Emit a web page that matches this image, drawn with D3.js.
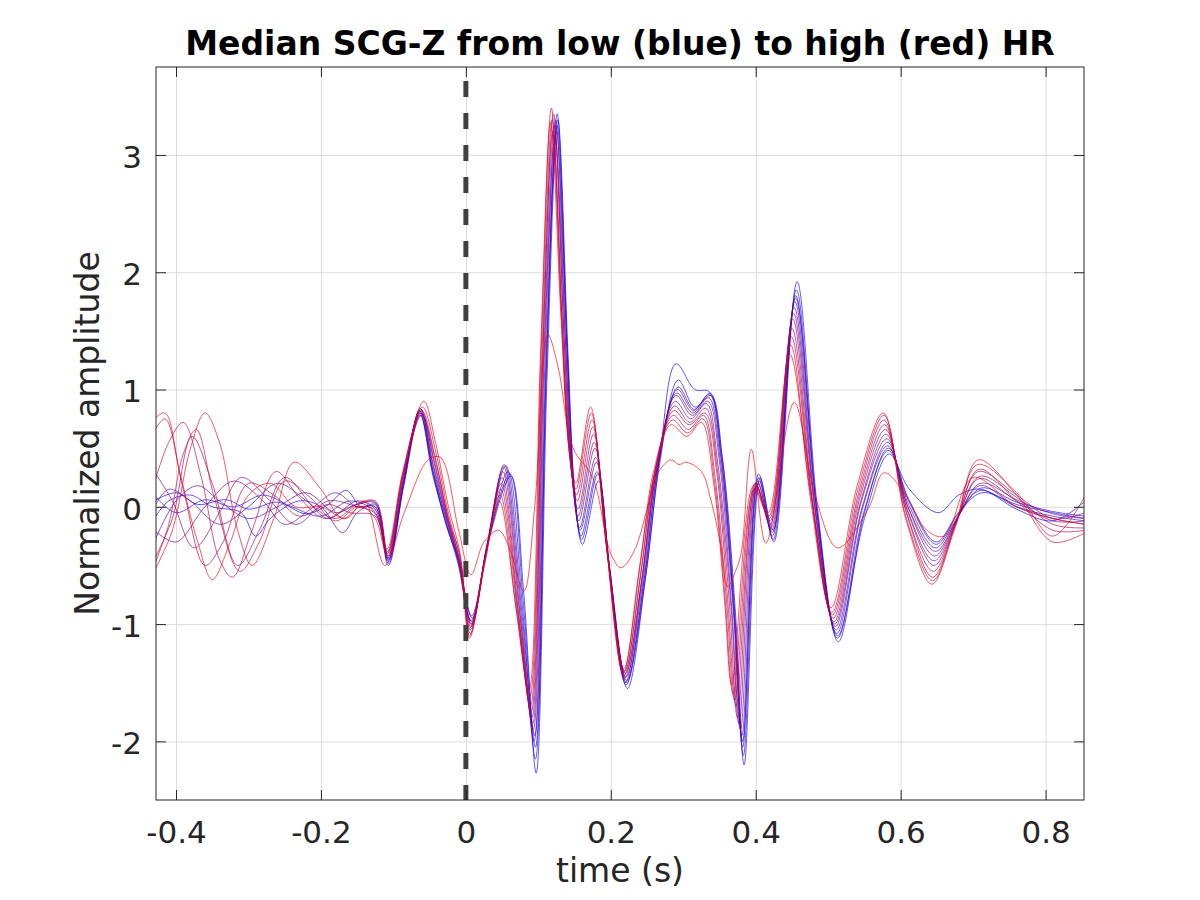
<!DOCTYPE html>
<html>
<head>
<meta charset="utf-8">
<script src="https://cdn.jsdelivr.net/npm/d3@7"></script>
<style>
  body { margin: 0; background: #fff; }
  svg text { font-family: 'DejaVu Sans', sans-serif; fill: #262626; }
</style>
</head>
<body>
<div id="chart"></div>
<script>
// tick labels
var xTicks = [-0.4, -0.2, 0, 0.2, 0.4, 0.6, 0.8];
var yTicks = [-2, -1, 0, 1, 2, 3];

// median SCG-Z traces, [time (s), normalized amplitude], low HR (blue) first
var hr01 = [[-0.43,0.05],[-0.40,0.12],[-0.37,0.02],[-0.33,0.06],[-0.30,-0.02],[-0.26,0.04],[-0.22,-0.06],[-0.19,0.02],[-0.165,0.14],[-0.145,0.0],
  [-0.125,0.0],[-0.107,-0.48],[-0.086,0.18],[-0.064,0.8],[-0.046,0.28],[-0.027,-0.15],[-0.011,-0.45],[0.009,-0.95],[0.031,-0.3],[0.062,0.26],[0.08,-0.75],[0.097,-2.27],[0.112,1.1],[0.127,3.3],[0.141,1.3],[0.151,0.05],[0.161,-0.32],[0.183,0.22],[0.2,-0.62],[0.223,-1.55],[0.249,-0.55],[0.268,0.45],[0.29,1.22],[0.316,1.0],[0.336,0.98],[0.352,0.45],[0.37,-0.9],[0.382,-2.0],[0.404,0.28],[0.424,-0.2],[0.455,1.8],[0.485,-0.05],[0.513,-1.1],[0.55,-0.1],[0.584,0.45],[0.612,0.15],[0.652,-0.05],[0.68,0.1],[0.71,0.15],[0.76,-0.02],[0.81,-0.12],[0.855,0.05]];
var hr02 = [[-0.43,-0.1],[-0.41,0.05],[-0.38,0.1],[-0.35,0.0],[-0.31,-0.05],[-0.29,-0.25],[-0.27,-0.1],[-0.23,0.05],[-0.2,0.0],[-0.17,-0.22],[-0.15,-0.05],
  [-0.125,0.02],[-0.107,-0.45],[-0.086,0.2],[-0.064,0.82],[-0.046,0.3],[-0.027,-0.14],[-0.011,-0.48],[0.008,-0.98],[0.031,-0.28],[0.061,0.28],[0.079,-0.8],[0.096,-2.05],[0.111,1.15],[0.126,3.35],[0.14,1.35],[0.15,0.1],[0.16,-0.28],[0.182,0.28],[0.199,-0.58],[0.222,-1.5],[0.248,-0.6],[0.267,0.35],[0.293,1.08],[0.316,0.85],[0.338,0.95],[0.354,0.42],[0.372,-0.9],[0.384,-2.2],[0.406,0.25],[0.425,-0.3],[0.457,1.92],[0.485,0.0],[0.514,-1.15],[0.55,-0.05],[0.583,0.5],[0.612,0.05],[0.649,-0.3],[0.68,-0.05],[0.712,0.12],[0.76,0.02],[0.81,-0.05],[0.855,-0.1]];
var hr03 = [[-0.43,0.1],[-0.40,-0.05],[-0.36,0.06],[-0.32,0.0],[-0.28,0.1],[-0.24,0.0],[-0.2,-0.08],[-0.16,0.05],
  [-0.125,-0.05],[-0.107,-0.5],[-0.086,0.17],[-0.063,0.78],[-0.046,0.32],[-0.027,-0.16],[-0.011,-0.44],[0.008,-0.93],[0.03,-0.32],[0.058,0.3],[0.078,-0.85],[0.096,-2.15],[0.111,1.2],[0.126,3.25],[0.14,1.3],[0.15,0.15],[0.159,-0.25],[0.181,0.3],[0.199,-0.55],[0.222,-1.48],[0.247,-0.58],[0.266,0.38],[0.293,1.02],[0.315,0.83],[0.337,0.97],[0.353,0.45],[0.371,-0.9],[0.383,-2.12],[0.405,0.22],[0.424,-0.28],[0.456,1.85],[0.484,-0.02],[0.513,-1.12],[0.549,-0.05],[0.583,0.48],[0.611,0.05],[0.649,-0.32],[0.679,-0.06],[0.71,0.14],[0.76,0.0],[0.81,-0.08],[0.855,-0.12]];
var hr04 = [[-0.43,-0.3],[-0.40,0.05],[-0.37,0.18],[-0.34,0.05],[-0.3,-0.1],[-0.26,0.0],[-0.22,0.12],[-0.18,-0.05],[-0.15,0.02],
  [-0.125,0.03],[-0.107,-0.44],[-0.086,0.22],[-0.063,0.84],[-0.045,0.3],[-0.026,-0.12],[-0.01,-0.46],[0.008,-1.0],[0.03,-0.3],[0.055,0.35],[0.077,-0.88],[0.095,-1.95],[0.11,1.15],[0.125,3.2],[0.139,1.4],[0.149,0.12],[0.158,-0.2],[0.18,0.38],[0.198,-0.5],[0.221,-1.52],[0.246,-0.62],[0.265,0.32],[0.292,1.0],[0.314,0.82],[0.336,0.96],[0.352,0.42],[0.37,-0.88],[0.382,-2.05],[0.404,0.25],[0.423,-0.25],[0.455,1.78],[0.483,0.02],[0.512,-1.08],[0.548,0.0],[0.582,0.52],[0.611,0.02],[0.648,-0.35],[0.679,-0.08],[0.711,0.16],[0.76,0.04],[0.81,-0.04],[0.855,-0.08]];
var hr05 = [[-0.43,0.0],[-0.41,0.15],[-0.38,0.05],[-0.34,-0.15],[-0.3,0.0],[-0.26,0.2],[-0.22,0.05],[-0.19,-0.1],[-0.15,0.05],
  [-0.125,-0.02],[-0.107,-0.46],[-0.086,0.2],[-0.063,0.82],[-0.045,0.34],[-0.026,-0.14],[-0.01,-0.45],[0.007,-0.97],[0.029,-0.35],[0.053,0.36],[0.076,-0.9],[0.094,-2.0],[0.109,1.2],[0.124,3.3],[0.138,1.35],[0.148,0.2],[0.157,-0.18],[0.179,0.42],[0.197,-0.48],[0.221,-1.45],[0.245,-0.6],[0.264,0.35],[0.291,0.97],[0.313,0.8],[0.335,0.93],[0.351,0.4],[0.369,-0.88],[0.381,-1.95],[0.403,0.2],[0.423,-0.22],[0.454,1.75],[0.482,0.0],[0.511,-1.05],[0.547,0.0],[0.582,0.55],[0.61,0.0],[0.648,-0.38],[0.678,-0.1],[0.709,0.18],[0.76,0.0],[0.81,-0.1],[0.855,-0.15]];
var hr06 = [[-0.43,-0.2],[-0.40,-0.3],[-0.36,0.0],[-0.32,0.22],[-0.28,0.05],[-0.25,-0.15],[-0.21,0.0],[-0.18,0.12],[-0.15,0.0],
  [-0.125,0.0],[-0.107,-0.42],[-0.086,0.24],[-0.062,0.8],[-0.045,0.36],[-0.026,-0.1],[-0.01,-0.48],[0.007,-1.02],[0.029,-0.33],[0.052,0.34],[0.075,-0.92],[0.093,-1.9],[0.108,1.25],[0.123,3.15],[0.137,1.45],[0.147,0.25],[0.156,-0.12],[0.178,0.5],[0.196,-0.42],[0.22,-1.5],[0.244,-0.58],[0.263,0.3],[0.29,0.95],[0.312,0.78],[0.334,0.9],[0.35,0.38],[0.367,-0.87],[0.379,-1.9],[0.402,0.22],[0.422,-0.2],[0.453,1.7],[0.481,0.03],[0.51,-1.02],[0.546,0.05],[0.581,0.58],[0.61,0.0],[0.647,-0.42],[0.678,-0.1],[0.71,0.2],[0.76,0.06],[0.81,-0.06],[0.855,-0.1]];
var hr07 = [[-0.43,0.3],[-0.405,0.05],[-0.375,-0.35],[-0.34,-0.05],[-0.31,0.25],[-0.27,0.05],[-0.235,-0.15],[-0.19,0.05],[-0.15,0.0],
  [-0.125,-0.06],[-0.108,-0.44],[-0.087,0.22],[-0.062,0.83],[-0.044,0.38],[-0.025,-0.12],[-0.009,-0.44],[0.007,-1.0],[0.028,-0.38],[0.051,0.3],[0.074,-0.9],[0.092,-1.85],[0.107,1.2],[0.122,3.25],[0.136,1.4],[0.146,0.3],[0.155,-0.08],[0.177,0.55],[0.195,-0.4],[0.22,-1.42],[0.243,-0.62],[0.262,0.32],[0.289,0.9],[0.31,0.75],[0.332,0.88],[0.348,0.35],[0.366,-0.86],[0.377,-1.85],[0.401,0.18],[0.421,-0.18],[0.452,1.65],[0.48,0.05],[0.509,-1.0],[0.545,0.05],[0.58,0.62],[0.609,-0.02],[0.646,-0.46],[0.677,-0.12],[0.708,0.24],[0.76,0.05],[0.81,-0.12],[0.855,-0.12]];
var hr08 = [[-0.43,-0.45],[-0.405,-0.1],[-0.378,0.6],[-0.35,0.2],[-0.315,-0.5],[-0.285,-0.2],[-0.25,0.25],[-0.21,0.0],[-0.18,-0.1],[-0.15,0.02],
  [-0.125,0.04],[-0.108,-0.4],[-0.087,0.26],[-0.062,0.8],[-0.044,0.4],[-0.025,-0.1],[-0.009,-0.46],[0.006,-1.05],[0.028,-0.4],[0.05,0.25],[0.073,-0.92],[0.091,-1.8],[0.106,1.3],[0.121,3.35],[0.135,1.5],[0.145,0.35],[0.155,-0.02],[0.176,0.62],[0.195,-0.35],[0.219,-1.46],[0.243,-0.6],[0.262,0.28],[0.288,0.86],[0.309,0.72],[0.331,0.84],[0.347,0.32],[0.364,-0.85],[0.375,-1.8],[0.4,0.2],[0.42,-0.15],[0.451,1.6],[0.479,0.02],[0.508,-0.98],[0.544,0.08],[0.579,0.66],[0.609,-0.03],[0.646,-0.5],[0.677,-0.12],[0.709,0.26],[0.76,0.08],[0.81,-0.15],[0.855,-0.18]];
var hr09 = [[-0.43,0.65],[-0.415,0.75],[-0.39,0.15],[-0.36,-0.5],[-0.335,-0.3],[-0.3,0.2],[-0.265,0.1],[-0.23,-0.08],[-0.19,0.02],[-0.16,-0.05],
  [-0.125,-0.08],[-0.108,-0.42],[-0.087,0.25],[-0.061,0.78],[-0.043,0.42],[-0.025,-0.08],[-0.009,-0.45],[0.006,-1.03],[0.027,-0.42],[0.049,0.2],[0.072,-0.9],[0.09,-1.75],[0.106,1.25],[0.12,3.2],[0.134,1.45],[0.144,0.4],[0.154,0.05],[0.175,0.68],[0.194,-0.3],[0.219,-1.4],[0.242,-0.55],[0.261,0.3],[0.287,0.82],[0.308,0.7],[0.33,0.8],[0.346,0.3],[0.362,-0.85],[0.373,-1.7],[0.4,0.17],[0.42,-0.12],[0.45,1.52],[0.478,0.05],[0.507,-0.95],[0.543,0.1],[0.578,0.7],[0.608,-0.05],[0.645,-0.55],[0.676,-0.14],[0.707,0.3],[0.76,0.1],[0.81,-0.1],[0.855,-0.05]];
var hr10 = [[-0.43,0.2],[-0.41,0.55],[-0.39,0.72],[-0.365,0.25],[-0.34,-0.45],[-0.322,-0.6],[-0.295,-0.2],[-0.262,0.3],[-0.23,0.08],[-0.195,-0.1],[-0.16,0.0],
  [-0.125,0.05],[-0.108,-0.38],[-0.087,0.28],[-0.061,0.82],[-0.043,0.44],[-0.024,-0.1],[-0.008,-0.42],[0.006,-1.08],[0.027,-0.45],[0.048,0.15],[0.071,-0.88],[0.089,-1.7],[0.105,1.3],[0.119,3.3],[0.133,1.55],[0.143,0.45],[0.153,0.1],[0.174,0.74],[0.193,-0.28],[0.218,-1.44],[0.241,-0.58],[0.26,0.28],[0.286,0.78],[0.307,0.66],[0.328,0.78],[0.344,0.25],[0.36,-0.82],[0.371,-1.65],[0.399,0.2],[0.419,-0.1],[0.449,1.45],[0.477,0.08],[0.506,-0.92],[0.542,0.12],[0.577,0.74],[0.608,-0.05],[0.644,-0.6],[0.676,-0.15],[0.708,0.32],[0.76,0.05],[0.81,-0.2],[0.855,-0.2]];
var hr11 = [[-0.43,-0.5],[-0.41,-0.15],[-0.39,0.45],[-0.372,0.66],[-0.348,0.1],[-0.312,-0.55],[-0.285,-0.3],[-0.25,0.22],[-0.215,0.08],[-0.18,-0.12],[-0.15,0.0],
  [-0.125,-0.03],[-0.109,-0.36],[-0.087,0.3],[-0.06,0.85],[-0.042,0.48],[-0.024,-0.06],[-0.008,-0.44],[0.005,-1.1],[0.026,-0.45],[0.047,0.1],[0.07,-0.9],[0.088,-1.62],[0.104,1.35],[0.118,3.4],[0.132,1.6],[0.142,0.5],[0.152,0.15],[0.173,0.8],[0.192,-0.22],[0.218,-1.38],[0.24,-0.52],[0.259,0.3],[0.285,0.74],[0.306,0.63],[0.327,0.75],[0.343,0.22],[0.358,-0.8],[0.369,-1.6],[0.398,0.15],[0.418,-0.08],[0.448,1.38],[0.476,0.05],[0.505,-0.9],[0.541,0.15],[0.577,0.78],[0.607,-0.08],[0.644,-0.63],[0.675,-0.16],[0.706,0.36],[0.76,0.12],[0.81,-0.25],[0.855,0.1]];
var hr12 = [[-0.43,-0.55],[-0.405,-0.2],[-0.38,0.5],[-0.36,0.8],[-0.34,0.55],[-0.315,-0.2],[-0.295,-0.5],[-0.265,-0.1],[-0.237,0.38],[-0.2,0.15],[-0.17,-0.1],[-0.145,0.0],
  [-0.125,-0.1],[-0.109,-0.4],[-0.087,0.28],[-0.058,0.9],[-0.042,0.55],[-0.024,0.0],[-0.008,-0.4],[0.005,-1.12],[0.026,-0.48],[0.046,0.05],[0.069,-0.85],[0.087,-1.56],[0.103,1.3],[0.117,3.28],[0.131,1.65],[0.142,0.55],[0.152,0.2],[0.172,0.85],[0.192,-0.2],[0.217,-1.42],[0.24,-0.5],[0.259,0.25],[0.283,0.7],[0.305,0.6],[0.325,0.72],[0.342,0.2],[0.357,-0.8],[0.367,-1.52],[0.397,0.18],[0.417,-0.05],[0.447,1.3],[0.476,0.1],[0.504,-0.86],[0.54,0.18],[0.576,0.8],[0.607,-0.1],[0.643,-0.66],[0.675,-0.18],[0.707,0.4],[0.76,0.1],[0.81,-0.3],[0.855,-0.22]];
var hr13 = [[-0.43,0.75],[-0.415,0.8],[-0.395,0.3],[-0.37,-0.3],[-0.35,-0.62],[-0.325,-0.3],[-0.3,0.1],[-0.27,0.2],[-0.235,0.0],[-0.2,0.0],[-0.165,-0.1],[-0.14,0.05],
  [-0.112,-0.5],[-0.085,-0.05],[-0.052,0.4],[-0.035,0.42],[-0.01,-0.2],[0.007,-0.58],[0.025,-0.3],[0.045,-0.2],[0.06,-0.35],[0.08,-0.72],[0.095,0.0],[0.113,1.47],[0.127,1.2],[0.148,0.5],[0.175,0.25],[0.2,-0.4],[0.214,-0.52],[0.232,-0.38],[0.251,0.0],[0.265,0.29],[0.283,0.4],[0.294,0.36],[0.304,0.38],[0.325,0.3],[0.338,0.06],[0.352,-0.34],[0.361,-0.68],[0.372,-0.55],[0.38,-0.39],[0.394,0.49],[0.414,-0.31],[0.453,0.89],[0.481,0.12],[0.513,-0.35],[0.555,-0.02],[0.577,0.29],[0.605,0.12],[0.636,-0.2],[0.66,-0.25],[0.7,0.25],[0.76,0.0],[0.81,-0.1],[0.855,-0.15]];

var traces = [hr01, hr02, hr03, hr04, hr05, hr06, hr07, hr08, hr09, hr10, hr11, hr12, hr13];

var margin = {top: 67, left: 156, right: 116, bottom: 100},
    width = 1200 - margin.left - margin.right,
    height = 900 - margin.top - margin.bottom;

var svg = d3.select('#chart').append('svg')
    .attr('width', 1200)
    .attr('height', 900)
    .style('background', '#fff');

var g = svg.append('g')
    .attr('transform', 'translate(' + margin.left + ',' + margin.top + ')');

var xScale = d3.scaleLinear().domain([-0.4276, 0.853]).range([0, width]);
var yScale = d3.scaleLinear().domain([-2.5, 3.75]).range([height, 0]);

// grid
g.append('g')
    .attr('class', 'grid')
    .attr('transform', 'translate(0,' + height + ')')
    .call(d3.axisBottom(xScale).tickValues(xTicks).tickSize(-height).tickFormat(''))
    .call(function(s) { s.select('.domain').remove(); })
    .selectAll('line').attr('stroke', '#dedede');
g.append('g')
    .attr('class', 'grid')
    .call(d3.axisLeft(yScale).tickValues(yTicks).tickSize(-width).tickFormat(''))
    .call(function(s) { s.select('.domain').remove(); })
    .selectAll('line').attr('stroke', '#dedede');

g.append('clipPath').attr('id', 'clip')
  .append('rect').attr('width', width).attr('height', height);

// blue (low HR) -> red (high HR)
var color = function(i) {
  var r = i / (traces.length - 1);
  return d3.rgb(255 * r, 0, 255 * (1 - r)).toString();
};

var line = d3.line()
    .x(function(d) { return xScale(d[0]); })
    .y(function(d) { return yScale(d[1]); })
    .curve(d3.curveCatmullRom.alpha(0.5));

g.append('g')
    .attr('clip-path', 'url(#clip)')
  .selectAll('path')
    .data(traces)
  .enter().append('path')
    .attr('d', line)
    .attr('fill', 'none')
    .attr('stroke', function(d, i) { return color(i); })
    .attr('stroke-opacity', 0.65)
    .attr('stroke-width', 1);

// R-peak marker
g.append('line')
    .attr('x1', xScale(0)).attr('x2', xScale(0))
    .attr('y1', 0).attr('y2', height)
    .attr('stroke', '#404040')
    .attr('stroke-width', 5)
    .attr('stroke-dasharray', '16,16')
    .attr('stroke-dashoffset', 18);

// axes with inward ticks on all sides
var fmt = function(d) { return String(d); };

var xAxis = g.append('g')
    .attr('transform', 'translate(0,' + height + ')')
    .call(d3.axisBottom(xScale).tickValues(xTicks).tickSize(-10).tickFormat(fmt));
xAxis.selectAll('text')
    .attr('y', 43).attr('dy', 0)
    .style('font-size', '31px');

g.append('g')
    .call(d3.axisTop(xScale).tickValues(xTicks).tickSize(-10).tickFormat(''));

var yAxis = g.append('g')
    .call(d3.axisLeft(yScale).tickValues(yTicks).tickSize(-10).tickFormat(fmt));
yAxis.selectAll('text')
    .attr('x', -14).attr('dy', '0.4em')
    .style('font-size', '31px');

g.append('g')
    .attr('transform', 'translate(' + width + ',0)')
    .call(d3.axisRight(yScale).tickValues(yTicks).tickSize(-10).tickFormat(''));

g.selectAll('.domain').remove();
g.selectAll('.tick line:not(.grid .tick line)');
g.selectAll('g:not(.grid) > .tick line').attr('stroke', '#262626');

g.append('rect')
    .attr('width', width)
    .attr('height', height)
    .attr('fill', 'none')
    .attr('stroke', '#262626')
    .attr('stroke-width', 1);

// labels
svg.append('text')
    .attr('x', margin.left + width / 2)
    .attr('y', 882)
    .attr('text-anchor', 'middle')
    .style('font-size', '33px')
    .text('time (s)');

svg.append('text')
    .attr('transform', 'translate(99,' + (margin.top + height / 2) + ') rotate(-90)')
    .attr('text-anchor', 'middle')
    .style('font-size', '33px')
    .text('Normalized amplitude');

svg.append('text')
    .attr('x', margin.left + width / 2)
    .attr('y', 55)
    .attr('text-anchor', 'middle')
    .style('font-size', '33px')
    .style('font-weight', 'bold')
    .style('fill', '#000')
    .text('Median SCG-Z from low (blue) to high (red) HR');
</script>
</body>
</html>
